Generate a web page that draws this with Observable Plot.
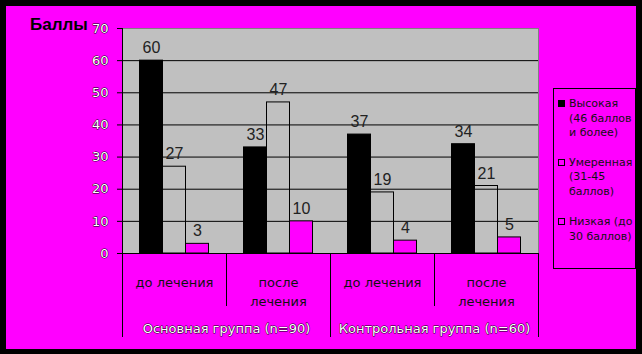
<!DOCTYPE html>
<html>
<head>
<meta charset="utf-8">
<script src="https://cdn.jsdelivr.net/npm/d3@7"></script>
<script src="https://cdn.jsdelivr.net/npm/@observablehq/plot@0.6"></script>
<style>
  html, body { margin: 0; padding: 0; background: #ff00ff; }
  #wrap { position: relative; width: 642px; height: 354px; background: #ff00ff; overflow: hidden; }
  #wrap svg { position: absolute; left: 0; top: 0; }
  #border { position: absolute; left: 0; top: 0; width: 642px; height: 354px; box-sizing: border-box;
            border-style: solid; border-color: #000; border-width: 6px 6px 5px 6px; pointer-events: none; }
  #title { position: absolute; left: 30px; top: 15.5px; font: bold 17px/17px "Liberation Sans", Arial, sans-serif; color: #000; white-space: nowrap; }
  #legend { position: absolute; left: 553px; top: 88px; width: 83px; height: 181px; box-sizing: border-box;
            border: 1px solid #000; background: #ff00ff; }
  .item { position: absolute; left: 0; width: 81px; }
  .sw { position: absolute; left: 4px; top: 3px; width: 7px; height: 7px; box-sizing: border-box; border: 1px solid #000; }
  .lab { position: absolute; left: 15px; top: 0; font: 11px/14.5px "DejaVu Sans", sans-serif; color: #111; white-space: nowrap; }
</style>
</head>
<body>
<div id="wrap">
  <div id="title"></div>
  <div id="legend"></div>
  <div id="border"></div>
</div>
<script>
// ---- data ----
const yTitle = "Баллы";
const groups = ["Основная группа (n=90)", "Контрольная группа (n=60)"];
const stages = ["до лечения", "после\nлечения"];
const seriesNames = ["Высокая (46 баллов и более)", "Умеренная (31-45 баллов)", "Низкая (до 30 баллов)"];
const legendLines = [["Высокая", "(46 баллов", "и более)"], ["Умеренная", "(31-45", "баллов)"], ["Низкая (до", "30 баллов)"]];
const high = [60, 33, 37, 34];
const moderate = [27, 47, 19, 21];
const low = [3, 10, 4, 5];
const yTicks = [0, 10, 20, 30, 40, 50, 60, 70];
const seriesColors = ["#000000", "none", "#ff00ff"];
const legendSwatch = ["#000000", "transparent", "transparent"];

// ---- derived tables ----
const categories = groups.flatMap((g, gi) => stages.map((s, si) => ({key: g + "|" + s, group: g, stage: s, first: si === 0})));
const keys = categories.map(c => c.key);
const seriesValues = [high, moderate, low];
const rows = categories.flatMap((c, i) => seriesValues.map((vals, j) => ({key: c.key, series: j, value: vals[i]})));

// ---- layout constants ----
const W = 642, H = 354, mL = 122, mR = 104, mT = 28, mB = 101;
const band = (W - mL - mR) / keys.length;   // 104
const barW = 23;
const pad = (band - barW * 3) / 2;
const frameH = H - mT - mB;

const barMarks = seriesValues.map((_, j) => Plot.barY(rows.filter(d => d.series === j), {
  x: "key", y: "value", fill: seriesColors[j], stroke: "#000", strokeWidth: 1,
  insetLeft: pad + j * barW, insetRight: band - pad - (j + 1) * barW
}));
const labelMarks = seriesValues.map((_, j) => Plot.text(rows.filter(d => d.series === j), {
  x: "key", y: "value", text: d => String(d.value), dx: (j - 1) * barW, dy: -7.5,
  lineAnchor: "bottom", fontSize: 16, fontFamily: "Liberation Sans, Arial, sans-serif", fill: "#222"
}));

const chart = Plot.plot({
  width: W, height: H,
  marginLeft: mL, marginRight: mR, marginTop: mT, marginBottom: mB,
  style: {background: "transparent", fontFamily: "DejaVu Sans, sans-serif", overflow: "visible"},
  x: {type: "band", domain: keys, padding: 0, axis: null},
  y: {domain: [0, 70], axis: null},
  marks: [
    Plot.frame({fill: "#c0c0c0", stroke: "#808080"}),
    Plot.ruleY(yTicks.filter(t => t > 0 && t < 70), {y: d => d, stroke: "#000", insetLeft: -5}),
    Plot.ruleY([70], {y: d => d, stroke: "#000", insetLeft: -5, insetRight: W - mL - mR}),
    ...barMarks,
    Plot.ruleY([0], {y: d => d, stroke: "#000", insetLeft: -5}),
    // y axis line
    Plot.ruleX([keys[0]], {x: d => d, dx: -band / 2, stroke: "#000", insetBottom: -84}),
    // long separators (group boundaries, below axis)
    Plot.ruleX(categories.filter(c => c.first && c.key !== keys[0]), {x: "key", dx: -band / 2, stroke: "#000", insetTop: frameH, insetBottom: -84}),
    Plot.ruleX([keys[keys.length - 1]], {x: d => d, dx: band / 2, stroke: "#000", insetTop: frameH, insetBottom: -84}),
    // short separators (between stages)
    Plot.ruleX(categories.filter(c => !c.first), {x: "key", dx: -band / 2, stroke: "#000", insetTop: frameH, insetBottom: -53}),
    // y tick labels
    Plot.text(yTicks, {y: d => d, text: d => String(d), frameAnchor: "left", textAnchor: "end", dx: -14,
      fontSize: 13, fill: "#fff", stroke: "#000", strokeWidth: 0.9}),
    ...labelMarks,
    // stage labels
    Plot.text(categories, {x: "key", text: "stage", frameAnchor: "bottom", lineAnchor: "top", dy: 20.5,
      fontSize: 13, lineHeight: 1.46, fill: "#111"}),
    // group labels
    Plot.text(categories.filter(c => c.first), {x: "key", text: "group", frameAnchor: "bottom", lineAnchor: "top",
      dx: band / 2, dy: 70.5, fontSize: 13, fill: "#fff", stroke: "#000", strokeWidth: 0.9})
  ]
});
document.getElementById("wrap").insertBefore(chart, document.getElementById("title"));
document.getElementById("title").textContent = yTitle;

// legend
const legend = document.getElementById("legend");
const itemTops = [8, 66.5, 126];
legendLines.forEach((lines, j) => {
  const item = document.createElement("div");
  item.className = "item";
  item.style.top = itemTops[j] + "px";
  item.title = seriesNames[j];
  const sw = document.createElement("div");
  sw.className = "sw";
  sw.style.background = legendSwatch[j];
  const lab = document.createElement("div");
  lab.className = "lab";
  lab.innerHTML = lines.map(l => l.replace(/&/g, "&amp;").replace(/</g, "&lt;")).join("<br>");
  item.appendChild(sw);
  item.appendChild(lab);
  legend.appendChild(item);
});
</script>
</body>
</html>
